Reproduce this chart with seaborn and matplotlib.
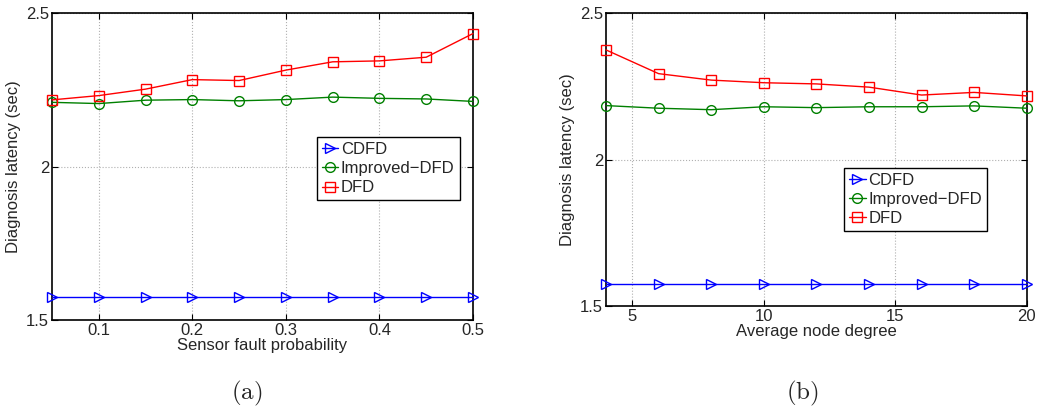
import numpy as np
import pandas as pd
import matplotlib
matplotlib.use("Agg")
import matplotlib.pyplot as plt
import seaborn as sns

# Panel (a): latency vs sensor fault probability
fault_prob = [0.05, 0.10, 0.15, 0.20, 0.25, 0.30, 0.35, 0.40, 0.45, 0.50]
cdfd_a = [1.575] * 10
improved_a = [2.209, 2.205, 2.216, 2.218, 2.214, 2.218, 2.226, 2.222, 2.220, 2.212]
dfd_a = [2.217, 2.231, 2.252, 2.283, 2.280, 2.314, 2.341, 2.344, 2.356, 2.433]

# Panel (b): latency vs average node degree
node_degree = [4, 6, 8, 10, 12, 14, 16, 18, 20]
cdfd_b = [1.575] * 9
improved_b = [2.184, 2.175, 2.170, 2.180, 2.177, 2.180, 2.180, 2.183, 2.175]
dfd_b = [2.374, 2.293, 2.271, 2.262, 2.258, 2.247, 2.220, 2.229, 2.217]

series_names = ["CDFD", "Improved\u2212DFD", "DFD"]
series_style = {
    "CDFD": dict(color="#0000ff", marker=">"),
    "Improved\u2212DFD": dict(color="#008000", marker="o"),
    "DFD": dict(color="#ff0000", marker="s"),
}

FS = 12

sns.set_theme(style="white")
plt.rcParams["font.family"] = ["Liberation Sans", "DejaVu Sans"]
plt.rcParams["mathtext.fontset"] = "cm"

fig = plt.figure(figsize=(10.4, 4.11), dpi=100)
W, H = 1040, 411
ax_a = fig.add_axes([52 / W, (H - 320) / H, (473 - 52) / W, (320 - 13) / H])
ax_b = fig.add_axes([606 / W, (H - 306) / H, (1026.7 - 606) / W, (306 - 13) / H])


def long_frame(x, cols):
    rows = []
    for name, vals in zip(series_names, cols):
        for xi, yi in zip(x, vals):
            rows.append({"x": xi, "y": yi, "series": name})
    return pd.DataFrame(rows)


def draw(ax, df, xlim, xticks, xlabel, legend_anchor):
    for name in series_names:
        st = series_style[name]
        sub = df[df["series"] == name]
        sns.lineplot(data=sub, x="x", y="y", ax=ax, color=st["color"],
                     marker=st["marker"], markersize=7 if st["marker"] == "o" else 6.5,
                     markerfacecolor="none", markeredgecolor=st["color"],
                     markeredgewidth=1.0, linewidth=1.0, label=name, clip_on=False)
    ax.set_xlim(*xlim)
    ax.set_ylim(1.5, 2.5)
    ax.set_xticks(xticks)
    ax.set_yticks([1.5, 2.0, 2.5])
    ax.set_yticklabels(["1.5", "2", "2.5"])
    ax.set_xlabel(xlabel, fontsize=FS, labelpad=0)
    ax.set_ylabel("Diagnosis latency (sec)", fontsize=FS, labelpad=4)
    ax.grid(True, linestyle=":", color="#b0b0b0", linewidth=0.8)
    ax.tick_params(direction="in", top=True, right=True, length=4,
                   width=0.8, color="black", labelsize=FS, pad=2,
                   bottom=True, left=True)
    for sp in ax.spines.values():
        sp.set_color("black")
        sp.set_linewidth(1.2)
        sp.set_zorder(1)
    leg = ax.legend(loc="upper left", bbox_to_anchor=legend_anchor, fontsize=FS,
                    frameon=True, fancybox=False, framealpha=1, edgecolor="black",
                    handlelength=1.0, handletextpad=0.15, borderpad=0.3,
                    labelspacing=0.25, borderaxespad=0)
    leg.get_frame().set_linewidth(1.0)
    leg.set_zorder(5)


draw(ax_a, long_frame(fault_prob, [cdfd_a, improved_a, dfd_a]), (0.05, 0.5),
     [0.1, 0.2, 0.3, 0.4, 0.5], "Sensor fault probability", (0.629, 0.596))
draw(ax_b, long_frame(node_degree, [cdfd_b, improved_b, dfd_b]), (4, 20),
     [5, 10, 15, 20], "Average node degree", (0.566, 0.471))

fig.text(247 / W, 1 - 393 / H, r"$\mathrm{(a)}$", fontsize=18, ha="center", va="center")
fig.text(802 / W, 1 - 393 / H, r"$\mathrm{(b)}$", fontsize=18, ha="center", va="center")

fig.savefig("out.png", dpi=100)
